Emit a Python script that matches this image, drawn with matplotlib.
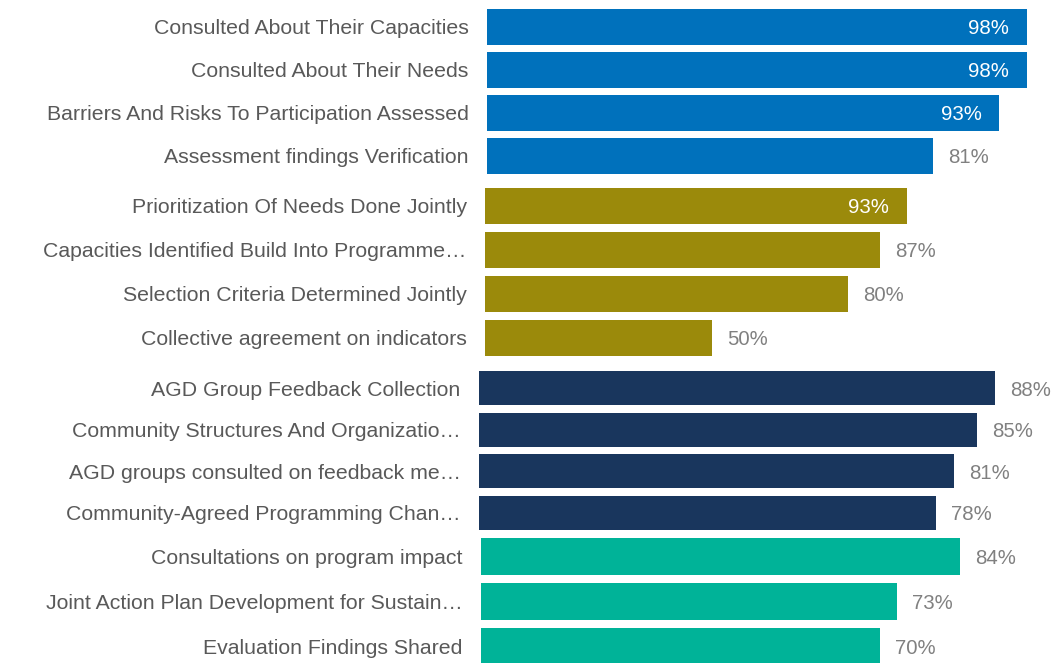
import matplotlib
matplotlib.use("Agg")
import matplotlib.pyplot as plt

plt.rcParams["font.family"] = ["Liberation Sans", "DejaVu Sans"]

W, H = 1053, 663

# ---- data, one block per section ----
labels_1 = ["Consulted About Their Capacities", "Consulted About Their Needs",
            "Barriers And Risks To Participation Assessed",
            "Assessment findings Verification"]
values_1 = [98, 98, 93, 81]

labels_2 = ["Prioritization Of Needs Done Jointly",
            "Capacities Identified Build Into Programme\u2026",
            "Selection Criteria Determined Jointly",
            "Collective agreement on indicators"]
values_2 = [93, 87, 80, 50]

labels_3 = ["AGD Group Feedback Collection",
            "Community Structures And Organizatio\u2026",
            "AGD groups consulted on feedback me\u2026",
            "Community-Agreed Programming Chan\u2026"]
values_3 = [88, 85, 81, 78]

labels_4 = ["Consultations on program impact",
            "Joint Action Plan Development for Sustain\u2026",
            "Evaluation Findings Shared"]
values_4 = [84, 73, 70]

# ---- layout per section (pixels): left edge, first/last bar centre, px per %, bar height, colour, labels inside
sections = [
    (labels_1, values_1, 487, 26.8, 156.0, 5.51, 35.5, "#0071BC", [True, True, True, False]),
    (labels_2, values_2, 485, 205.8, 338.0, 4.54, 35.7, "#9B8A0B", [True, False, False, False]),
    (labels_3, values_3, 479, 388.0, 513.0, 5.86, 34.0, "#19365D", [False, False, False, False]),
    (labels_4, values_4, 481, 556.5, 646.0, 5.70, 36.5, "#00B398", [False, False, False]),
]

fig = plt.figure(figsize=(W / 100, H / 100), dpi=100)

for labels, values, left, c0, c1, scale, bh, color, inside in sections:
    n = len(values)
    pitch = (c1 - c0) / (n - 1)
    top = c0 - pitch / 2
    bot = c1 + pitch / 2
    ax = fig.add_axes([left / W, 1 - bot / H, (W - left) / W, (bot - top) / H])
    ax.set_xlim(0, (W - left) / scale)
    ax.set_ylim(n - 0.5, -0.5)
    ys = list(range(n))
    ax.barh(ys, values, height=bh / pitch, color=color)
    for y, v, ins in zip(ys, values, inside):
        if ins:
            ax.annotate(f"{v}%", (v, y), xytext=(-18, -2), textcoords="offset pixels",
                        ha="right", va="center", color="white", fontsize=14.7)
        else:
            ax.annotate(f"{v}%", (v, y), xytext=(15, -2), textcoords="offset pixels",
                        ha="left", va="center", color="#808080", fontsize=14.7,
                        annotation_clip=False)
    ax.set_yticks(ys)
    ax.set_yticklabels(labels, fontsize=15.3, color="#595959")
    ax.tick_params(axis="y", length=0, pad=13.3)
    ax.set_xticks([])
    for s in ax.spines.values():
        s.set_visible(False)
    ax.patch.set_alpha(0)

fig.savefig("out.png", dpi=100)
